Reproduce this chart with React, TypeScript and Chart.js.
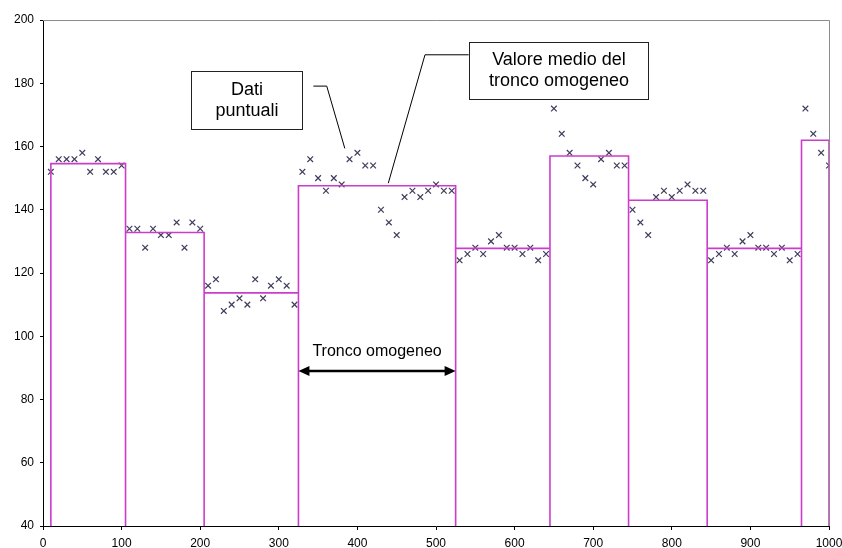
import React, { useEffect, useRef } from "react";
import { Chart, registerables } from "chart.js";

Chart.register(...registerables);

// ---- data ----
const positions = [
  10, 20, 30, 40, 50, 60, 70, 80, 90, 100,
  110, 120, 130, 140, 150, 160, 170, 180, 190, 200,
  210, 220, 230, 240, 250, 260, 270, 280, 290, 300, 310, 320,
  330, 340, 350, 360, 370, 380, 390, 400, 410, 420, 430, 440, 450, 460, 470, 480, 490, 500, 510, 520,
  530, 540, 550, 560, 570, 580, 590, 600, 610, 620, 630, 640,
  650, 660, 670, 680, 690, 700, 710, 720, 730, 740,
  750, 760, 770, 780, 790, 800, 810, 820, 830, 840,
  850, 860, 870, 880, 890, 900, 910, 920, 930, 940, 950, 960,
  970, 980, 990, 1000,
];
const pointValues = [
  152, 156, 156, 156, 158, 152, 156, 152, 152, 154,
  134, 134, 128, 134, 132, 132, 136, 128, 136, 134,
  116, 118, 108, 110, 112, 110, 118, 112, 116, 118, 116, 110,
  152, 156, 150, 146, 150, 148, 156, 158, 154, 154, 140, 136, 132, 144, 146, 144, 146, 148, 146, 146,
  124, 126, 128, 126, 130, 132, 128, 128, 126, 128, 124, 126,
  172, 164, 158, 154, 150, 148, 156, 158, 154, 154,
  140, 136, 132, 144, 146, 144, 146, 148, 146, 146,
  124, 126, 128, 126, 130, 132, 128, 128, 126, 128, 124, 126,
  172, 164, 158, 154,
];
const segmentStarts = [10, 105, 205, 325, 525, 645, 745, 845, 965];
const segmentEnds = [105, 205, 325, 525, 645, 745, 845, 965, 1000];
const segmentMeans = [154.6, 132.8, 113.7, 147.6, 127.8, 157.0, 143.0, 127.8, 162.0];

const xMin = 0, xMax = 1000, xStep = 100;
const yMin = 40, yMax = 200, yStep = 20;

const labelDati = ["Dati", "puntuali"];
const labelMedio = ["Valore medio del", "tronco omogeneo"];
const labelTronco = "Tronco omogeneo";
const troncoFrom = 325, troncoTo = 525;

const FONT = "'Liberation Sans', Arial, sans-serif";

const overlayPlugin = {
  id: "overlay",
  afterDraw(chart: any) {
    const { ctx, chartArea: ca, scales } = chart;
    const sx = (v: number) => scales.x.getPixelForValue(v);
    const sy = (v: number) => scales.y.getPixelForValue(v);
    ctx.save();
    // plot-area border (top & right)
    ctx.strokeStyle = "#8c8c8c";
    ctx.lineWidth = 1;
    ctx.beginPath();
    ctx.moveTo(ca.left, Math.round(ca.top) + 0.5);
    ctx.lineTo(Math.round(ca.right) + 0.5, Math.round(ca.top) + 0.5);
    ctx.lineTo(Math.round(ca.right) + 0.5, ca.bottom);
    ctx.stroke();

    // leader lines
    ctx.strokeStyle = "#000";
    ctx.lineWidth = 1;
    ctx.beginPath();
    ctx.moveTo(sx(344), sy(179.1));
    ctx.lineTo(sx(361), sy(179.1));
    ctx.lineTo(sx(384), sy(159.4));
    ctx.stroke();
    ctx.beginPath();
    ctx.moveTo(sx(541.6), sy(189));
    ctx.lineTo(sx(486), sy(189));
    ctx.lineTo(sx(439.3), sy(148.4));
    ctx.stroke();

    // boxes
    const drawBox = (x0: number, x1: number, y0: number, y1: number, lines: string[]) => {
      const l = Math.round(sx(x0)) + 0.5, r = Math.round(sx(x1)) + 0.5;
      const t = Math.round(sy(y0)) + 0.5, b = Math.round(sy(y1)) + 0.5;
      ctx.fillStyle = "#fff";
      ctx.fillRect(l, t, r - l, b - t);
      ctx.strokeStyle = "#222";
      ctx.lineWidth = 1;
      ctx.strokeRect(l, t, r - l, b - t);
      ctx.fillStyle = "#000";
      ctx.font = `18px ${FONT}`;
      ctx.textAlign = "center";
      ctx.textBaseline = "middle";
      const cx = (l + r) / 2, cy = (t + b) / 2;
      const lh = 21;
      lines.forEach((s, i) => {
        ctx.fillText(s, cx, cy + (i - (lines.length - 1) / 2) * lh);
      });
    };
    drawBox(188, 330, 183.8, 165.6, labelDati);
    drawBox(541.6, 770, 193, 175, labelMedio);

    // double arrow
    const ay = sy(89);
    const a0 = sx(troncoFrom), a1 = sx(troncoTo);
    ctx.strokeStyle = "#000";
    ctx.fillStyle = "#000";
    ctx.lineWidth = 2.5;
    ctx.beginPath();
    ctx.moveTo(a0 + 6, ay);
    ctx.lineTo(a1 - 6, ay);
    ctx.stroke();
    const head = (x: number, dir: number) => {
      ctx.beginPath();
      ctx.moveTo(x, ay);
      ctx.lineTo(x + dir * 11, ay - 5);
      ctx.lineTo(x + dir * 11, ay + 5);
      ctx.closePath();
      ctx.fill();
    };
    head(a0, 1);
    head(a1, -1);
    ctx.font = `16px ${FONT}`;
    ctx.textAlign = "center";
    ctx.textBaseline = "middle";
    ctx.fillText(labelTronco, (a0 + a1) / 2, sy(95.3));
    ctx.restore();
  },
};

export default function App() {
  const ref = useRef<HTMLCanvasElement | null>(null);
  useEffect(() => {
    document.body.style.margin = "0";
    if (!ref.current) return;
    const points = positions.map((x, i) => ({ x, y: pointValues[i] }));
    const steps: { x: number; y: number }[] = [];
    segmentMeans.forEach((m, i) => {
      steps.push({ x: segmentStarts[i], y: yMin });
      steps.push({ x: segmentStarts[i], y: m });
      steps.push({ x: segmentEnds[i], y: m });
      steps.push({ x: segmentEnds[i], y: yMin });
    });
    const chart = new Chart(ref.current, {
      type: "scatter",
      data: {
        datasets: [
          {
            label: "Valore medio",
            data: steps,
            showLine: true,
            borderColor: "#cc3ccc",
            borderWidth: 1.6,
            pointRadius: 0,
            fill: false,
            tension: 0,
          } as any,
          {
            label: "Dati puntuali",
            data: points,
            pointStyle: "crossRot",
            pointRadius: 4,
            borderColor: "#3d3d5c",
            backgroundColor: "#3d3d5c",
            pointBorderWidth: 1.2,
            showLine: false,
          } as any,
        ],
      },
      options: {
        animation: false,
        responsive: false,
        devicePixelRatio: 1,
        layout: { padding: { top: 20, right: 13, left: 0, bottom: 0 } },
        plugins: { legend: { display: false }, tooltip: { enabled: false } },
        scales: {
          x: {
            type: "linear",
            min: xMin,
            max: xMax,
            afterFit: (s: any) => { s.height = 22; s.paddingRight = 0; s.paddingLeft = 0; },
            ticks: {
              stepSize: xStep, color: "#000", font: { family: FONT, size: 12 }, padding: 6, maxRotation: 0,
              callback: (v: any) => String(v),
            },
            grid: { display: true, drawOnChartArea: false, drawTicks: true, tickLength: 4, color: "#000" },
            border: { display: true, color: "#000", width: 1 },
          },
          y: {
            type: "linear",
            min: yMin,
            max: yMax,
            afterFit: (s: any) => { s.width = 43; s.paddingTop = 0; s.paddingBottom = 0; },
            ticks: { stepSize: yStep, color: "#000", font: { family: FONT, size: 12 }, padding: 6 },
            grid: { display: true, drawOnChartArea: false, drawTicks: true, tickLength: 3, color: "#000" },
            border: { display: true, color: "#000", width: 1 },
          },
        },
      } as any,
      plugins: [overlayPlugin],
    });
    return () => chart.destroy();
  }, []);
  return <canvas ref={ref} width={842} height={548} style={{ display: "block" }} />;
}
